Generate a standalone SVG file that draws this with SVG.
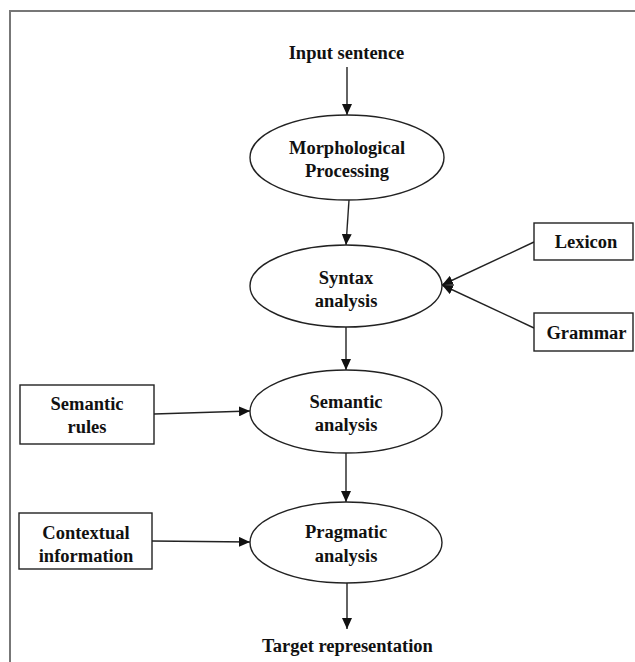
<svg xmlns="http://www.w3.org/2000/svg" width="635" height="662" viewBox="0 0 635 662">
<style>
.t{font-family:"Liberation Serif","Times New Roman",serif;font-weight:bold;font-size:18.5px;fill:#111;text-anchor:middle}
.n{fill:#fff;stroke:#222;stroke-width:1.4}
.c{stroke:#222;stroke-width:1.4;fill:none}
</style>
<defs>
<marker id="ah" markerUnits="userSpaceOnUse" markerWidth="12" markerHeight="10" refX="11" refY="5" orient="auto">
<path d="M0,0 L11,5 L0,10 Z" fill="#111"/>
</marker>
</defs>
<rect x="0" y="0" width="635" height="662" fill="#fff"/>
<rect x="10" y="11" width="640" height="670" fill="none" stroke="#777" stroke-width="2"/>
<g id="connectors">
<line class="c" x1="347" y1="67" x2="347" y2="115" marker-end="url(#ah)"/>
<line class="c" x1="349" y1="200" x2="346" y2="245" marker-end="url(#ah)"/>
<line class="c" x1="346" y1="327" x2="346" y2="370" marker-end="url(#ah)"/>
<line class="c" x1="346" y1="453" x2="346" y2="502" marker-end="url(#ah)"/>
<line class="c" x1="347" y1="583" x2="347" y2="629" marker-end="url(#ah)"/>
<line class="c" x1="534" y1="242" x2="442" y2="285" marker-end="url(#ah)"/>
<line class="c" x1="534" y1="328" x2="442" y2="285" marker-end="url(#ah)"/>
<line class="c" x1="154" y1="414" x2="250" y2="411" marker-end="url(#ah)"/>
<line class="c" x1="152" y1="541" x2="250" y2="542" marker-end="url(#ah)"/>
</g>
<g id="input"><text class="t" x="346.5" y="59">Input sentence</text></g>
<g id="morph">
<ellipse class="n" cx="347" cy="157.5" rx="97" ry="42.5"/>
<text class="t" x="347" y="154">Morphological</text>
<text class="t" x="347" y="177">Processing</text>
</g>
<g id="syntax">
<ellipse class="n" cx="346" cy="286" rx="96" ry="41"/>
<text class="t" x="346" y="284">Syntax</text>
<text class="t" x="346" y="307">analysis</text>
</g>
<g id="semantic">
<ellipse class="n" cx="346" cy="411.5" rx="96" ry="41.5"/>
<text class="t" x="346" y="408">Semantic</text>
<text class="t" x="346" y="431">analysis</text>
</g>
<g id="pragmatic">
<ellipse class="n" cx="346" cy="542.5" rx="96" ry="40.5"/>
<text class="t" x="346" y="538">Pragmatic</text>
<text class="t" x="346" y="562">analysis</text>
</g>
<g id="target"><text class="t" x="347.5" y="652">Target representation</text></g>
<g id="lexicon">
<rect class="n" x="534" y="223" width="99" height="37"/>
<text class="t" x="586" y="248">Lexicon</text>
</g>
<g id="grammar">
<rect class="n" x="534" y="313" width="99" height="38"/>
<text class="t" x="586.5" y="339">Grammar</text>
</g>
<g id="semrules">
<rect class="n" x="20" y="385" width="134" height="59"/>
<text class="t" x="87" y="410">Semantic</text>
<text class="t" x="87" y="433">rules</text>
</g>
<g id="context">
<rect class="n" x="19" y="513" width="133" height="56"/>
<text class="t" x="86" y="539">Contextual</text>
<text class="t" x="86" y="562">information</text>
</g>
</svg>
